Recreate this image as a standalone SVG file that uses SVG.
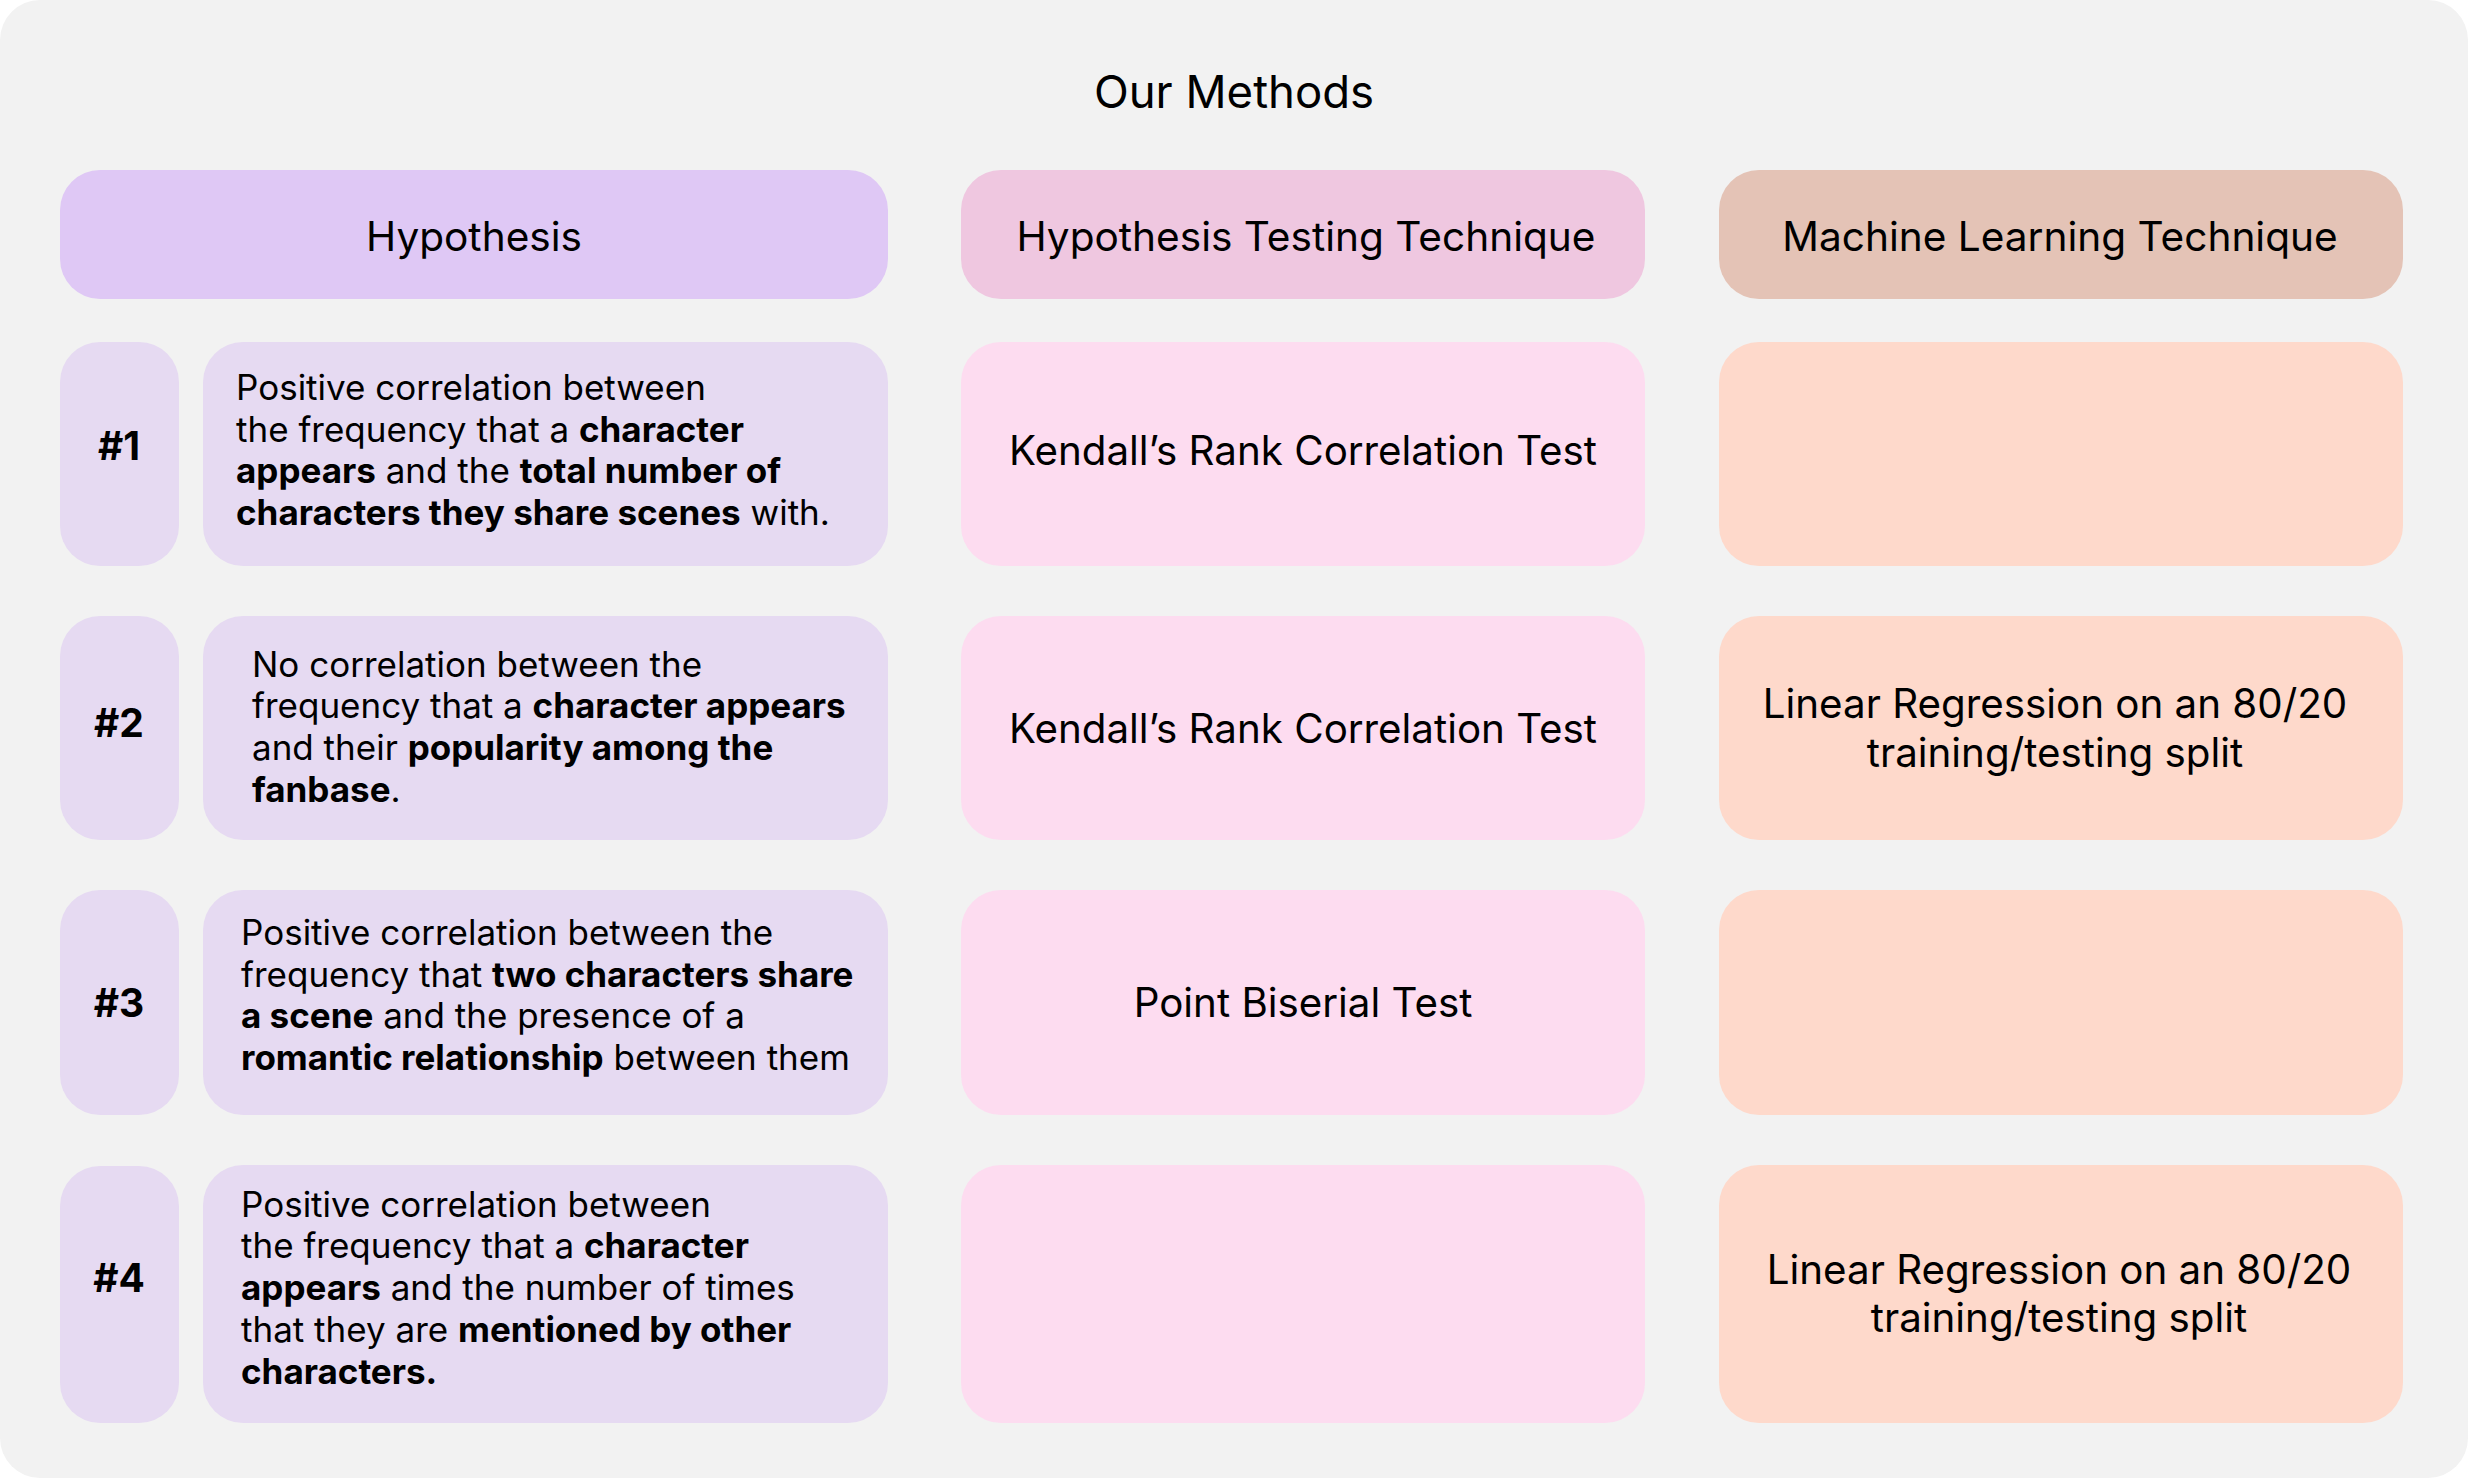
<svg xmlns="http://www.w3.org/2000/svg" width="2469" height="1479" viewBox="0 0 2469 1479">
<style>
text { font-family: Inter, "Open Sans", "Liberation Sans", sans-serif; fill: #000000; }
.title { font-size: 45.5px; text-anchor: middle; }
.head { font-size: 40.6px; text-anchor: middle; }
.cell { font-size: 40.3px; text-anchor: middle; }
.num { font-size: 39px; font-weight: 700; text-anchor: middle; }
.hyp { font-size: 35px; }
.b { font-weight: 700; }
.hh { fill: #dfc8f5; }
.hc { fill: #e6daf2; }
.th { fill: #efc7e0; }
.tc { fill: #fddcf0; }
.mh { fill: #e4c3b6; }
.mc { fill: #fed9cb; }
</style>
<rect x="0" y="0" width="2469" height="1479" fill="#ffffff"/>
<rect x="0" y="0" width="2468" height="1478" rx="40" ry="40" fill="#f2f2f2"/>
<g id="title"><text class="title" x="1234" y="108">Our Methods</text></g>

<g id="header-hypothesis"><rect class="hh" x="60" y="170" width="828" height="129" rx="40"/><text class="head" x="474" y="251">Hypothesis</text></g>
<g id="header-testing"><rect class="th" x="961" y="170" width="684" height="129" rx="40"/><text class="head" x="1306" y="251">Hypothesis Testing Technique</text></g>
<g id="header-ml"><rect class="mh" x="1719" y="170" width="684" height="129" rx="40"/><text class="head" x="2060" y="251">Machine Learning Technique</text></g>

<g id="num-1"><rect class="hc" x="60" y="342" width="119" height="224" rx="40"/><text class="num" x="119" y="460">#1</text></g>
<g id="hyp-1"><rect class="hc" x="203" y="342" width="685" height="224" rx="40"/>
<text class="hyp"><tspan x="236" y="400">Positive correlation between</tspan><tspan x="236" y="442">the frequency that a <tspan class="b">character</tspan></tspan><tspan x="236" y="483"><tspan class="b">appears</tspan> and the <tspan class="b">total number of</tspan></tspan><tspan x="236" y="525"><tspan class="b">characters they share scenes</tspan> with.</tspan></text></g>
<g id="test-1"><rect class="tc" x="961" y="342" width="684" height="224" rx="40"/><text class="cell" x="1303" y="465">Kendall’s Rank Correlation Test</text></g>
<g id="ml-1"><rect class="mc" x="1719" y="342" width="684" height="224" rx="40"/></g>

<g id="num-2"><rect class="hc" x="60" y="616" width="119" height="224" rx="40"/><text class="num" x="119" y="737">#2</text></g>
<g id="hyp-2"><rect class="hc" x="203" y="616" width="685" height="224" rx="40"/>
<text class="hyp"><tspan x="252" y="677">No correlation between the</tspan><tspan x="252" y="718">frequency that a <tspan class="b">character appears</tspan></tspan><tspan x="252" y="760">and their <tspan class="b">popularity among the</tspan></tspan><tspan x="252" y="802"><tspan class="b">fanbase</tspan>.</tspan></text></g>
<g id="test-2"><rect class="tc" x="961" y="616" width="684" height="224" rx="40"/><text class="cell" x="1303" y="743">Kendall’s Rank Correlation Test</text></g>
<g id="ml-2"><rect class="mc" x="1719" y="616" width="684" height="224" rx="40"/><text class="cell"><tspan x="2055" y="718">Linear Regression on an 80/20</tspan><tspan x="2055" y="767">training/testing split</tspan></text></g>

<g id="num-3"><rect class="hc" x="60" y="890" width="119" height="225" rx="40"/><text class="num" x="119" y="1017">#3</text></g>
<g id="hyp-3"><rect class="hc" x="203" y="890" width="685" height="225" rx="40"/>
<text class="hyp"><tspan x="241" y="945">Positive correlation between the</tspan><tspan x="241" y="987">frequency that <tspan class="b">two characters share</tspan></tspan><tspan x="241" y="1028"><tspan class="b">a scene</tspan> and the presence of a</tspan><tspan x="241" y="1070"><tspan class="b">romantic relationship</tspan> between them</tspan></text></g>
<g id="test-3"><rect class="tc" x="961" y="890" width="684" height="225" rx="40"/><text class="cell" x="1303" y="1017">Point Biserial Test</text></g>
<g id="ml-3"><rect class="mc" x="1719" y="890" width="684" height="225" rx="40"/></g>

<g id="num-4"><rect class="hc" x="60" y="1166" width="119" height="257" rx="40"/><text class="num" x="119" y="1292">#4</text></g>
<g id="hyp-4"><rect class="hc" x="203" y="1165" width="685" height="258" rx="40"/>
<text class="hyp"><tspan x="241" y="1217">Positive correlation between</tspan><tspan x="241" y="1258">the frequency that a <tspan class="b">character</tspan></tspan><tspan x="241" y="1300"><tspan class="b">appears</tspan> and the number of times</tspan><tspan x="241" y="1342">that they are <tspan class="b">mentioned by other</tspan></tspan><tspan x="241" y="1384"><tspan class="b">characters.</tspan></tspan></text></g>
<g id="test-4"><rect class="tc" x="961" y="1165" width="684" height="258" rx="40"/></g>
<g id="ml-4"><rect class="mc" x="1719" y="1165" width="684" height="258" rx="40"/><text class="cell"><tspan x="2059" y="1284">Linear Regression on an 80/20</tspan><tspan x="2059" y="1332">training/testing split</tspan></text></g>

<g id="connectors"></g>
</svg>
